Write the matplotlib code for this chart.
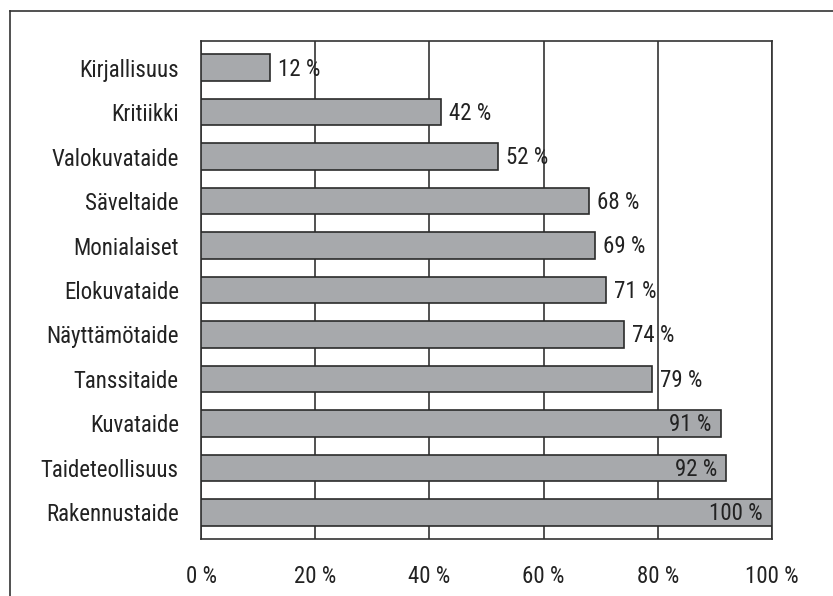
import numpy as np
import matplotlib.pyplot as plt
from matplotlib.lines import Line2D

# Aineisto
alat = ["Kirjallisuus", "Kritiikki", "Valokuvataide", "Säveltaide", "Monialaiset",
        "Elokuvataide", "Näyttämötaide", "Tanssitaide", "Kuvataide",
        "Taideteollisuus", "Rakennustaide"]
osuudet = [12, 42, 52, 68, 69, 71, 74, 79, 91, 92, 100]
xtiks = [0, 20, 40, 60, 80, 100]

plt.rcParams['font.family'] = ['Roboto Condensed', 'Liberation Sans Narrow', 'DejaVu Sans']
plt.rcParams['font.stretch'] = 'condensed'

fig = plt.figure(figsize=(8.33, 5.96), dpi=100)
ax = fig.add_axes([201 / 833, 1 - 539 / 596, 571 / 833, 498 / 596])

fs = 16.5
y = np.arange(len(alat))
ax.barh(y, osuudet, height=0.6, color="#a7a9ac", edgecolor="#2b2b2b",
        linewidth=1.2, zorder=3)

# Arvot palkin perään, isoimmat palkin sisään
for yi, v in zip(y, osuudet):
    if v >= 90:
        ax.text(v - 1.6, yi + 0.03, f"{v} %", ha="right", va="center",
                fontsize=fs, color="#222222", zorder=4)
    else:
        ax.text(v + 1.4, yi + 0.03, f"{v} %", ha="left", va="center",
                fontsize=fs, color="#222222", zorder=4)

ax.set_xlim(0, 100)
ax.set_ylim(len(alat) - 0.4, -0.6)
ax.set_yticks(y)
ax.set_yticklabels(alat, fontsize=fs, color="#222222")
ax.set_xticks(xtiks)
ax.set_xticklabels([f"{t} %" for t in xtiks], fontsize=fs, color="#222222")
ax.tick_params(length=0, pad=19, axis="x")
ax.tick_params(length=0, pad=16, axis="y")
ax.xaxis.grid(True, color="#333333", linewidth=1.2, zorder=0)
ax.set_axisbelow(True)
for s in ax.spines.values():
    s.set_color("#333333")
    s.set_linewidth(1.2)

# Ulkokehys: ylä- ja vasen viiva
fig.add_artist(Line2D([10 / 833, 1], [1 - 11 / 596] * 2, color="#333333",
                      linewidth=1.2, transform=fig.transFigure))
fig.add_artist(Line2D([10 / 833] * 2, [0, 1 - 11 / 596], color="#333333",
                      linewidth=1.2, transform=fig.transFigure))

fig.savefig("out.png", dpi=100)
